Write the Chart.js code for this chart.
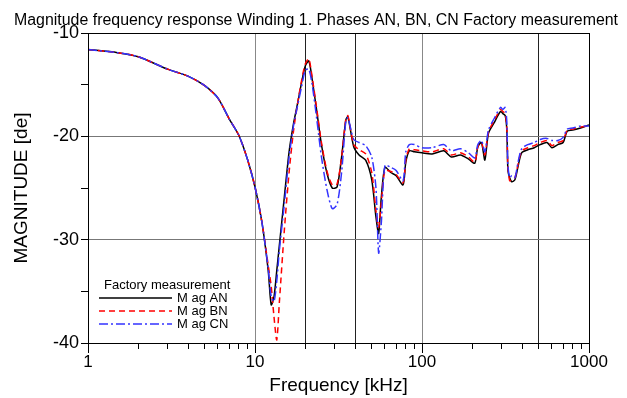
<!DOCTYPE html>
<html>
<head>
<meta charset="utf-8">
<script src="https://cdn.jsdelivr.net/npm/chart.js@4.4.1/dist/chart.umd.min.js"></script>
<style>
  html, body { margin: 0; padding: 0; background: #fff; }
  #wrap { width: 627px; height: 398px; }
</style>
</head>
<body>
<div id="wrap"><canvas id="fra"></canvas></div>
<script>
// frequency in kHz
var freqs = [1, 1.5, 2, 3, 4, 5, 6, 7, 8, 9, 10, 11, 12, 12.5, 13, 13.5, 14, 15, 16, 17, 18, 19, 20, 21, 22, 23.5, 25, 27, 29, 31, 33, 35, 36, 39, 42, 46, 50, 53, 55, 57, 60, 65, 70, 77, 80, 84, 90, 100, 115, 135, 150, 170, 190, 207, 216, 227, 238, 250, 270, 295, 305, 315, 322, 327, 335, 345, 360, 375, 395, 430, 470, 510, 560, 600, 650, 700, 740, 800, 890, 1000];

var magAN = [-11.6, -11.9, -12.3, -13.5, -14.2, -15.1, -16.3, -18.3, -19.9, -22.2, -24.9, -28.3, -33.0, -36.3, -35.5, -33.0, -30.5, -25.8, -21.5, -18.8, -16.8, -14.8, -13.2, -12.7, -14.5, -17.7, -20.8, -23.6, -25.0, -24.9, -22.0, -18.4, -18.1, -21.0, -21.8, -22.3, -24.2, -27.8, -29.4, -26.0, -23.0, -23.5, -23.8, -24.7, -22.5, -21.4, -21.5, -21.6, -21.7, -21.4, -22.0, -21.8, -22.2, -22.6, -21.0, -20.6, -22.3, -19.7, -18.7, -17.6, -17.8, -18.0, -19.4, -23.3, -24.0, -24.4, -24.2, -23.0, -21.6, -21.3, -21.1, -20.8, -20.6, -21.1, -20.8, -20.6, -19.5, -19.4, -19.2, -18.9];

var magBN = [-11.6, -11.9, -12.3, -13.5, -14.2, -15.1, -16.3, -18.3, -19.9, -22.2, -24.9, -28.3, -32.5, -34.5, -37.5, -39.7, -36.0, -29.0, -23.5, -19.5, -16.8, -14.6, -13.0, -12.5, -14.3, -17.5, -20.6, -23.4, -24.7, -24.6, -22.0, -18.3, -18.0, -20.8, -21.3, -21.7, -23.5, -27.2, -28.8, -26.5, -23.3, -23.4, -23.7, -24.5, -22.3, -21.2, -21.3, -21.4, -21.5, -21.2, -21.8, -21.6, -22.0, -22.5, -21.0, -20.6, -21.8, -19.6, -18.5, -17.4, -17.6, -17.8, -19.2, -23.0, -24.3, -24.2, -24.0, -22.8, -21.4, -21.1, -20.9, -20.6, -20.4, -20.9, -20.6, -20.4, -19.4, -19.3, -19.1, -19.0];

var magCN = [-11.6, -11.9, -12.3, -13.5, -14.2, -15.1, -16.3, -18.3, -19.9, -22.2, -24.9, -28.3, -32.8, -35.5, -36.0, -34.0, -31.0, -26.5, -22.0, -19.0, -17.0, -15.2, -13.6, -13.5, -15.0, -18.5, -22.0, -25.2, -27.0, -26.6, -23.5, -18.5, -18.2, -20.3, -20.6, -20.9, -22.0, -25.0, -31.3, -28.5, -22.8, -23.0, -23.3, -24.3, -21.5, -20.8, -20.8, -21.1, -21.1, -20.8, -21.4, -21.2, -21.6, -22.1, -20.8, -20.4, -21.5, -19.4, -18.3, -17.2, -17.4, -17.2, -18.6, -22.8, -24.0, -23.8, -24.0, -22.6, -21.2, -20.8, -20.6, -20.3, -20.2, -20.4, -20.4, -20.1, -19.3, -19.2, -19.0, -19.0];

var seriesNames = ["M ag AN", "M ag BN", "M ag CN"];
var legendTitle = "Factory measurement";
var chartTitle = "Magnitude frequency response Winding 1. Phases AN, BN, CN Factory measurement";
var xTickValues = [1, 2, 3, 4, 5, 6, 7, 8, 9, 10, 20, 30, 40, 50, 60, 70, 80, 90, 100, 200, 300, 400, 500, 600, 700, 800, 900, 1000];
var xLabelValues = [1, 10, 100, 1000];
var yTickValues = [-40, -35, -30, -25, -20, -15, -10];

var FONT = "'Liberation Sans', Arial, sans-serif";

function toPoints(ys) {
    return freqs.map(function (f, i) { return { x: f, y: ys[i] }; });
}

var styles = [
    { color: '#000000', dash: [] },
    { color: '#ff0000', dash: [6, 4] },
    { color: '#3333ff', dash: [9, 3, 2, 3] }
];

var frame = {
    id: 'frame',
    afterDraw: function (chart) {
        var ctx = chart.ctx;
        var a = chart.chartArea;
        var xs = chart.scales.x;
        ctx.save();

        // title, centred on the whole picture
        ctx.fillStyle = '#000';
        ctx.font = '16px ' + FONT;
        ctx.textAlign = 'center';
        ctx.textBaseline = 'alphabetic';
        ctx.fillText(chartTitle, 316, 25, 604);

        ctx.strokeStyle = '#000';
        ctx.lineWidth = 1;
        ctx.strokeRect(a.left + 0.5, a.top + 0.5, a.right - a.left, a.bottom - a.top);

        // longer tick marks at the decades
        ctx.beginPath();
        xLabelValues.forEach(function (v) {
            var px = Math.round(xs.getPixelForValue(v)) + 0.5;
            ctx.moveTo(px, a.bottom);
            ctx.lineTo(px, a.bottom + 10);
        });
        ctx.stroke();

        // legend inside plot area
        ctx.font = '13px ' + FONT;
        ctx.textBaseline = 'middle';
        ctx.textAlign = 'left';
        ctx.fillText(legendTitle, 104, 285);
        for (var i = 0; i < seriesNames.length; i++) {
            var y = 298 + i * 13;
            ctx.beginPath();
            ctx.strokeStyle = styles[i].color;
            ctx.lineWidth = 1.5;
            ctx.setLineDash(styles[i].dash);
            ctx.moveTo(99, y);
            ctx.lineTo(172, y);
            ctx.stroke();
            ctx.setLineDash([]);
            ctx.fillText(seriesNames[i], 177, y);
        }
        ctx.restore();
    }
};

var ctx = document.getElementById('fra').getContext('2d');

var chart = new Chart(ctx, {
    type: 'line',
    data: {
        datasets: seriesNames.map(function (name, i) {
            return {
                label: name,
                data: toPoints([magAN, magBN, magCN][i]),
                borderColor: styles[i].color,
                borderDash: styles[i].dash,
                borderWidth: 1.5,
                pointRadius: 0,
                tension: 0.25,
                fill: false,
                order: 3 - i
            };
        })
    },
    options: {
        responsive: true,
        maintainAspectRatio: false,
        animation: false,
        layout: { padding: { left: 0, right: 38, top: 33, bottom: 0 } },
        plugins: {
            legend: { display: false },
            tooltip: { enabled: false },
            title: { display: false }
        },
        scales: {
            x: {
                type: 'logarithmic',
                min: 1,
                max: 1000,
                afterBuildTicks: function (scale) {
                    scale.ticks = xTickValues.map(function (v) { return { value: v }; });
                },
                afterFit: function (scale) { scale.height = 55; },
                ticks: {
                    autoSkip: false,
                    maxRotation: 0,
                    color: '#000',
                    padding: 3,
                    font: { family: FONT, size: 17 },
                    callback: function (v) {
                        return xLabelValues.indexOf(v) >= 0 ? String(v) : '';
                    }
                },
                grid: {
                    tickLength: 6,
                    tickColor: '#000',
                    color: function (c) {
                        var v = c.tick ? c.tick.value : null;
                        if (v === 20 || v === 40 || v === 500) return '#222';
                        if (v === 10 || v === 100) return '#888';
                        return 'rgba(0,0,0,0)';
                    }
                },
                border: { display: true, color: '#000' },
                title: {
                    display: true,
                    text: 'Frequency [kHz]',
                    color: '#000',
                    font: { family: FONT, size: 19 },
                    padding: { top: 0, bottom: 1 }
                }
            },
            y: {
                type: 'linear',
                min: -40,
                max: -10,
                afterBuildTicks: function (scale) {
                    scale.ticks = yTickValues.map(function (v) { return { value: v }; });
                },
                afterFit: function (scale) { scale.width = 88; },
                ticks: {
                    color: '#000',
                    padding: 2,
                    font: { family: FONT, size: 18 },
                    callback: function (v) {
                        return v % 10 === 0 ? String(v) : '';
                    }
                },
                grid: {
                    tickLength: 7,
                    tickColor: '#000',
                    color: function (c) {
                        var v = c.tick ? c.tick.value : null;
                        if (v === -20 || v === -30) return '#777';
                        return 'rgba(0,0,0,0)';
                    }
                },
                border: { display: true, color: '#000' },
                title: {
                    display: true,
                    text: 'MAGNITUDE [de]',
                    color: '#000',
                    font: { family: FONT, size: 19 },
                    padding: { top: 10, bottom: 4 }
                }
            }
        }
    },
    plugins: [frame]
});
</script>
</body>
</html>
